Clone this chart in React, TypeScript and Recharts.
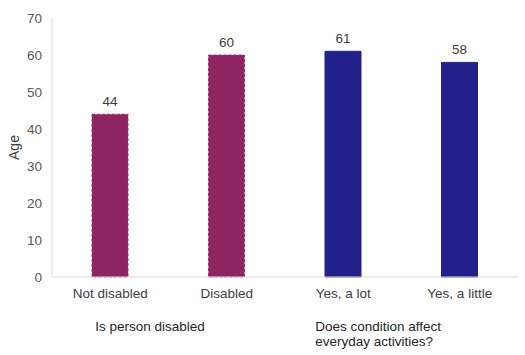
import React from "react";
import { BarChart, Bar, XAxis, YAxis, Cell, LabelList } from "recharts";

const categories = ["Not disabled", "Disabled", "Yes, a lot", "Yes, a little"];
const ages = [44, 60, 61, 58];
const groupLabels = ["Is person disabled", "", "Does condition affect\neveryday activities?", ""];
const yTicks = [0, 10, 20, 30, 40, 50, 60, 70];

const MAGENTA = "#8f2463";
const NAVY = "#22218c";
const barColors = [MAGENTA, MAGENTA, NAVY, NAVY];
const FONT = "'Liberation Sans', Arial, sans-serif";

const data = categories.map((name, i) => ({ name, age: ages[i], group: groupLabels[i] }));

function CategoryTick(props: any) {
  const { x, y, payload, index } = props;
  const group = groupLabels[index] ?? "";
  const lines = group ? group.split("\n") : [];
  const groupX = index === 0 ? x - 15 : x - 28;
  return (
    <g>
      <text x={x} y={y + 13} textAnchor="middle" fontSize={13.5} fill="#404040" fontFamily={FONT}>
        {payload.value}
      </text>
      {lines.map((line: string, j: number) => (
        <text key={j} x={groupX} y={y + 46 + j * 15} textAnchor="start" fontSize={13.5} fill="#262626" fontFamily={FONT}>
          {line}
        </text>
      ))}
    </g>
  );
}

export default function App() {
  return (
    <div style={{ position: "absolute", left: 0, top: 0, width: 525, height: 355, background: "#fff" }}>
      <BarChart
        width={525}
        height={355}
        data={data}
        margin={{ top: 18, right: 7, bottom: 48, left: 0 }}
      >
        <XAxis
          dataKey="name"
          interval={0}
          height={30}
          axisLine={{ stroke: "#d9d9d9" }}
          tickLine={false}
          tick={<CategoryTick />}
        />
        <YAxis
          width={52}
          domain={[0, 70]}
          ticks={yTicks}
          axisLine={{ stroke: "#d9d9d9" }}
          tickLine={false}
          tick={{ fontSize: 13.5, fill: "#595959", fontFamily: FONT }}
          tickMargin={4}
          label={{
            value: "Age",
            angle: -90,
            position: "insideLeft",
            offset: 14,
            style: { fontSize: 14, fill: "#404040", fontFamily: FONT, textAnchor: "middle" },
          }}
        />
        <Bar dataKey="age" barSize={36} isAnimationActive={false}>
          {data.map((d, i) => (
            <Cell key={d.name} fill={barColors[i]} stroke={barColors[i] === MAGENTA ? "#9a3370" : NAVY} strokeDasharray={barColors[i] === MAGENTA ? "3 2" : undefined} strokeWidth={1} />
          ))}
          <LabelList dataKey="age" position="top" offset={8} fontSize={13.5} fill="#404040" fontFamily={FONT} />
        </Bar>
      </BarChart>
    </div>
  );
}
